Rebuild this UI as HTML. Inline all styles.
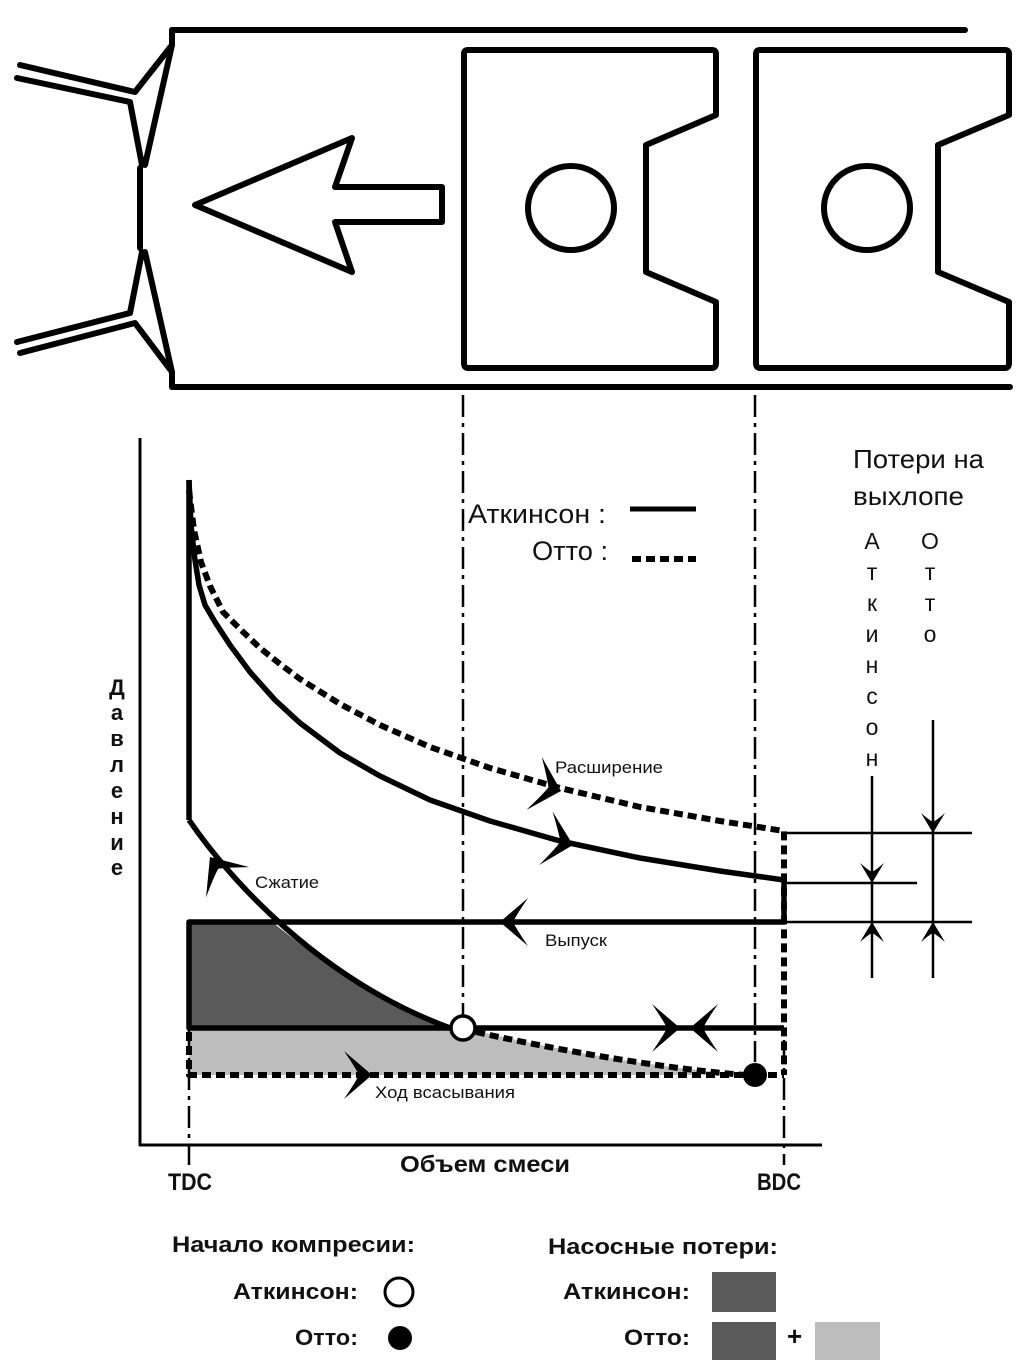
<!DOCTYPE html>
<html><head><meta charset="utf-8"><style>
html,body{margin:0;padding:0;background:#fff}
svg{display:block}
text{font-family:"Liberation Sans","DejaVu Sans",sans-serif;fill:#111}
</style></head><body>
<svg width="1024" height="1365" viewBox="0 0 1024 1365" xmlns="http://www.w3.org/2000/svg">
<defs>
<path id="ah" d="M0,0 L-28,-24 Q-17,-8 -13,0 Q-17,8 -28,24 Z" fill="#000"/>
<path id="sah" d="M0,0 L-20,-12 Q-13,-4 -11,0 Q-13,4 -20,12 Z" fill="#000"/>
</defs>
<g fill="none" stroke="#000" stroke-width="6" stroke-linejoin="round" stroke-linecap="round">
<line x1="172" y1="30" x2="965" y2="30"/>
<line x1="172" y1="387" x2="1010" y2="387"/>
<line x1="140" y1="168" x2="140" y2="248"/>
<polyline points="20,65 135,92 172,45 145,165"/>
<polyline points="17,78 130,102 142,165"/>
<line x1="172" y1="30" x2="172" y2="45"/>
<polyline points="17,342 130,313 142,252"/>
<polyline points="20,353 135,323 172,372 145,252"/>
<line x1="172" y1="372" x2="172" y2="387"/>
<polygon points="195,205 352,138 335,187 442,187 442,222 335,222 352,272"/>
<path d="M468,50 H712 Q716,50 716,54 V115 L646,145 V272 L716,302 V363 Q716,368 712,368 H468 Q464,368 464,363 V54 Q464,50 468,50 Z"/>
<ellipse cx="571" cy="208" rx="43" ry="42"/>
<path d="M760,50 H1005 Q1009,50 1009,54 V115 L938,145 V272 L1009,302 V363 Q1009,368 1005,368 H760 Q756,368 756,363 V54 Q756,50 760,50 Z"/>
<ellipse cx="867" cy="208" rx="43" ry="42"/>
</g>

<path d="M189,922 L272,922 C320,960 380,1005 445,1028 L189,1028 Z" fill="#5a5a5a"/>
<path d="M189,1028 L463,1028 C560,1050 650,1068 755,1075 L189,1075 Z" fill="#bdbdbd"/>

<g fill="none" stroke="#000" stroke-linejoin="round">
<line x1="140" y1="438" x2="140" y2="1146" stroke-width="3"/>
<line x1="139" y1="1145" x2="822" y2="1145" stroke-width="3"/>
<g stroke-width="2.5" stroke-dasharray="22,6,4,6">
<line x1="463" y1="395" x2="463" y2="1016"/>
<line x1="755" y1="395" x2="755" y2="1062"/>
<line x1="189" y1="1030" x2="189" y2="1165"/>
<line x1="784" y1="1040" x2="784" y2="1165"/>
</g>
<g stroke-width="5.5">
<path d="M189,480 L189,820"/>
<polyline points="189,480 191,525 195,560 199,585 205,605 215,622 230,645 250,672 275,700 300,723 340,753 380,776 430,800 490,821 560,841 640,858 720,871 784,880"/>
<path d="M784,880 V922 H189 V1028 H784"/>
<path d="M189,820 C230,880 320,980 450,1028"/>
</g>
<g stroke-width="6" stroke-dasharray="9,5">
<polyline points="189,490 194,530 201,562 210,586 223,612 240,629 260,648 280,664 300,679 340,704 380,725 430,747 490,768 560,788 640,807 720,821 784,831 784,1075"/>
<path d="M476,1032 C580,1055 680,1070 745,1075"/>
<path d="M189,1032 V1075 H742"/>
<line x1="768" y1="1075" x2="784" y2="1075"/>
</g>
<g stroke-width="2.5">
<line x1="784" y1="833" x2="972" y2="833"/>
<line x1="784" y1="883" x2="917" y2="883"/>
<line x1="784" y1="922" x2="972" y2="922"/>
<line x1="872" y1="776" x2="872" y2="978"/>
<line x1="933" y1="720" x2="933" y2="978"/>
</g>
</g>
<use href="#sah" transform="translate(872,883) rotate(90)"/>
<use href="#sah" transform="translate(933,833) rotate(90)"/>
<use href="#sah" transform="translate(872,922) rotate(-90)"/>
<use href="#sah" transform="translate(933,922) rotate(-90)"/>
<use href="#ah" transform="translate(561,791) rotate(16) scale(1,1.15)"/>
<use href="#ah" transform="translate(573,845) rotate(14) scale(1,1.15)"/>
<use href="#ah" transform="translate(210,857) rotate(-125) scale(1.1)"/>
<use href="#ah" transform="translate(500,922) rotate(180)"/>
<use href="#ah" transform="translate(680,1028)"/>
<use href="#ah" transform="translate(690,1028) rotate(180)"/>
<use href="#ah" transform="translate(372,1075)"/>
<circle cx="463" cy="1028" r="12" fill="#fff" stroke="#000" stroke-width="3.5"/>
<circle cx="755" cy="1075" r="12" fill="#000"/>

<text x="468" y="523" font-size="27" textLength="138" lengthAdjust="spacingAndGlyphs">Аткинсон :</text>
<line x1="630" y1="509" x2="696" y2="509" stroke="#000" stroke-width="5"/>
<text x="532" y="560" font-size="27" textLength="76" lengthAdjust="spacingAndGlyphs">Отто :</text>
<line x1="632" y1="559" x2="696" y2="559" stroke="#000" stroke-width="6" stroke-dasharray="9,5"/>

<text x="853" y="468" font-size="26" textLength="131" lengthAdjust="spacingAndGlyphs">Потери на</text>
<text x="853" y="505" font-size="26" textLength="111" lengthAdjust="spacingAndGlyphs">выхлопе</text>
<g font-size="23" text-anchor="middle">
<text x="872" y="549">А</text><text x="872" y="580">т</text><text x="872" y="611">к</text><text x="872" y="642">и</text><text x="872" y="673">н</text><text x="872" y="704">с</text><text x="872" y="735">о</text><text x="872" y="766">н</text>
<text x="930" y="549">О</text><text x="930" y="580">т</text><text x="930" y="611">т</text><text x="930" y="642">о</text>
</g>
<g font-size="22" font-weight="bold" text-anchor="middle">
<text x="117" y="695">Д</text><text x="117" y="720">а</text><text x="117" y="746">в</text><text x="117" y="772">л</text><text x="117" y="798">е</text><text x="117" y="824">н</text><text x="117" y="850">и</text><text x="117" y="875">е</text>
</g>
<g font-size="17">
<text x="555" y="773" textLength="108" lengthAdjust="spacingAndGlyphs">Расширение</text>
<text x="255" y="888" textLength="64" lengthAdjust="spacingAndGlyphs">Сжатие</text>
<text x="545" y="946" textLength="62" lengthAdjust="spacingAndGlyphs">Выпуск</text>
<text x="375" y="1098" textLength="140" lengthAdjust="spacingAndGlyphs">Ход всасывания</text>
</g>
<text x="400" y="1172" font-size="23" font-weight="bold" textLength="170" lengthAdjust="spacingAndGlyphs">Объем смеси</text>
<text x="168" y="1190" font-size="24" font-weight="bold" textLength="44" lengthAdjust="spacingAndGlyphs">TDC</text>
<text x="757" y="1190" font-size="24" font-weight="bold" textLength="44" lengthAdjust="spacingAndGlyphs">BDC</text>

<g font-size="22" font-weight="bold">
<text x="172" y="1252" textLength="243" lengthAdjust="spacingAndGlyphs">Начало компресии:</text>
<text x="548" y="1254" textLength="230" lengthAdjust="spacingAndGlyphs">Насосные потери:</text>
<text x="233" y="1299" textLength="125" lengthAdjust="spacingAndGlyphs">Аткинсон:</text>
<text x="295" y="1345" textLength="63" lengthAdjust="spacingAndGlyphs">Отто:</text>
<text x="563" y="1299" textLength="127" lengthAdjust="spacingAndGlyphs">Аткинсон:</text>
<text x="624" y="1345" textLength="66" lengthAdjust="spacingAndGlyphs">Отто:</text>
<text x="787" y="1345" font-size="26">+</text>
</g>
<circle cx="399" cy="1292" r="14" fill="#fff" stroke="#000" stroke-width="3"/>
<circle cx="400" cy="1338" r="12" fill="#000"/>
<rect x="712" y="1272" width="64" height="40" fill="#5a5a5a"/>
<rect x="712" y="1322" width="64" height="38" fill="#5a5a5a"/>
<rect x="815" y="1322" width="65" height="38" fill="#bdbdbd"/>
</svg>
</body></html>
